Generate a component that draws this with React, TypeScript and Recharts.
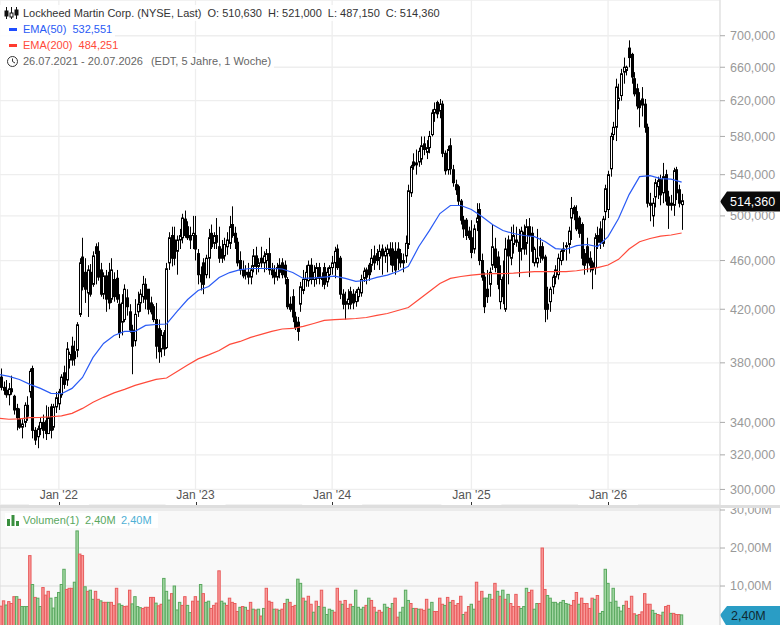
import React from "react";
import { ComposedChart, BarChart, Bar, Line, XAxis, YAxis, CartesianGrid, ReferenceLine } from "recharts";

const opens = [
376,370,363,361,358,362,357,349,342,337,
340,351,360,376,335,331,336,340,341,333,
350,337,350,352,358,373,368,382,392,388,
389,416,463,450,433,450,440,472,468,452,
432,447,450,428,444,445,424,410,412,429,
418,404,396,418,425,430,440,436,425,422,
412,405,390,402,391,458,482,478,468,478,
480,497,490,482,482,482,466,448,458,448,
462,484,475,482,472,470,464,472,475,492,
484,476,460,452,450,450,446,455,464,455,
462,458,460,466,452,450,446,456,458,456,
444,424,430,414,410,424,435,444,443,456,
444,445,454,446,454,442,448,454,458,470,
462,432,426,424,434,432,426,430,433,445,
452,456,456,464,466,462,470,464,466,470,
470,468,470,466,458,464,474,522,553,552,
553,556,572,563,568,582,606,618,608,616,
562,545,570,545,530,528,514,496,496,486,
480,470,494,506,460,446,436,440,456,470,
463,426,446,420,478,462,474,478,476,470,
485,475,490,484,458,458,472,472,463,424,
426,438,446,448,460,468,472,474,498,508,
504,498,492,466,472,462,458,454,482,488,
475,504,506,546,582,590,620,626,654,656,
684,676,646,634,620,622,616,590,512,500,
518,528,535,522,540,518,512,510,545,525,
510.63];
const highs = [
382,376,367,368,366,371,358,352,349,342,
353,357,376,378,337,338,343,345,351,350,
352,352,360,362,372,378,395,388,399,396,
410,462,480,462,456,457,468,475,476,458,
450,452,458,462,450,452,432,432,440,436,
424,408,428,434,436,447,445,436,430,424,
425,412,404,404,458,485,490,490,482,488,
502,505,495,490,500,500,470,455,462,465,
488,492,485,498,490,478,480,485,500,509,
490,480,468,460,456,458,456,470,472,462,
472,468,470,480,458,456,458,462,462,460,
446,430,436,418,414,442,452,456,460,462,
456,458,458,450,458,454,456,464,472,474,
464,436,434,436,438,436,436,438,448,454,
454,458,470,473,470,474,474,472,474,476,
476,476,476,470,466,482,530,550,562,566,
568,580,580,576,586,610,618,620,622,620,
565,570,578,550,535,530,516,500,498,490,
496,492,512,512,466,450,452,454,492,480,
468,456,460,480,482,490,492,490,488,490,
492,497,498,490,472,488,480,476,465,438,
438,448,456,466,470,476,476,490,518,510,
510,500,494,470,480,468,460,484,490,495,
500,530,544,584,596,646,640,658,672,662,
694,678,654,640,630,636,622,594,522,517,
536,538,540,552,545,524,520,547,548,530,
521];
const lows = [
368,361,358,356,351,358,345,335,336,330,
337,341,356,330,326,324,332,330,329,333,
330,335,346,348,356,362,364,376,378,378,
384,414,435,425,414,430,438,440,443,430,
428,418,420,425,426,425,398,400,410,415,
402,372,392,414,418,425,420,416,416,410,
383,380,384,385,390,452,455,456,448,470,
475,480,478,470,470,460,440,435,432,445,
445,470,470,470,458,458,460,465,470,480,
470,455,448,445,444,440,440,450,448,450,
454,450,452,448,445,440,443,445,445,440,
420,418,410,404,396,418,432,438,438,440,
438,440,440,438,436,438,444,448,445,452,
428,420,412,420,420,420,422,426,430,442,
440,443,450,452,456,452,448,458,450,456,
450,448,452,454,450,458,470,518,545,540,
548,550,560,556,562,580,596,600,600,558,
540,540,540,528,520,510,492,480,478,478,
462,466,486,456,443,417,425,430,452,450,
436,420,424,418,440,456,466,472,446,460,
465,465,446,458,455,454,458,460,410,412,
418,432,440,444,456,460,460,466,478,496,
486,480,456,448,450,450,436,448,470,470,
472,496,498,538,576,575,610,620,640,650,
660,640,625,610,590,602,584,508,495,490,
508,516,510,512,510,488,505,500,515,508,
487.15];
const closes = [
370,363,361,358,362,360,348,343,337,339,
351,344,374,335,329,336,340,335,333,343,
335,350,356,360,370,365,390,386,382,383,
408,458,438,436,452,432,464,466,446,432,
447,428,425,452,430,428,402,425,436,422,
404,392,416,424,432,440,428,420,418,412,
392,388,400,390,453,480,462,462,478,482,
498,482,480,478,484,470,448,442,440,462,
480,472,482,476,462,462,474,478,490,482,
476,458,452,447,448,446,452,464,455,458,
458,464,466,452,448,446,454,450,448,446,
422,420,414,406,403,438,444,450,456,444,
450,454,445,444,440,450,454,458,468,454,
432,424,424,428,424,425,434,436,444,451,
446,448,462,458,460,468,464,468,470,464,
456,452,462,458,460,475,524,548,549,550,
564,570,566,568,580,606,610,605,616,562,
544,566,546,532,525,514,496,488,482,480,
467,488,498,460,446,422,430,450,472,454,
440,444,430,470,464,478,482,476,468,486,
470,490,482,468,470,462,464,462,420,420,
436,446,452,462,468,470,473,486,507,502,
488,484,462,456,458,456,452,480,476,476,
497,526,540,580,590,636,623,652,660,660,
672,648,628,614,612,615,590,512,510,512,
532,534,520,538,514,510,510,544,522,512,
514.36];
const volumes = [
5,4.7,6.1,5,5.9,5.4,7.2,7.2,6.5,4.6,
4.6,4.6,18,10.4,7,6.8,4.6,9.6,7.6,8.6,
6.8,4.2,7,8.3,10.4,14.4,9.1,9.4,9.4,11,
24.5,18.4,18,9.8,8.6,8.9,6.5,8.6,6.5,6.1,
5.7,5.7,5.7,5.7,4.9,9.4,5.3,4.9,4.6,4.7,
8.9,5.3,7.2,4.6,4.3,4.1,4.4,4.4,7,7,
5.5,4.8,5.2,12,8.6,6.3,8,10,3.7,5.7,
4.9,7.2,4.9,3,6,7.2,6,10.4,8,5.7,
6,4.1,4.9,5.5,14,6,5.5,4.9,6.8,5.7,
5.4,3.3,4.4,4.6,4.4,3.6,5.7,3.9,3.7,3.9,
2.1,4.1,9.4,6,5.7,3.9,3.9,3.6,3.9,5.4,
6.5,5.7,4.6,4.9,11.8,10.7,6.8,6,7.3,5.2,
3.1,6,4.6,8.9,4.4,2.5,3.9,3.6,3.1,9.4,
6,5.2,6.2,4.1,5.2,4.6,8.9,4.4,3.9,4.4,
4.9,6.8,6.2,4.4,3.1,3.6,3.1,5.2,4.4,4.1,
5.4,6.8,1.8,3.1,4.4,8.9,6.2,5.4,4.1,4.1,
3.9,3.9,3.6,6.5,3.9,5.7,3.3,3.3,6.8,5.2,
4.9,7,5.7,6.2,4.9,5.4,7.3,2.5,3.1,4.6,
5.2,3.9,11,6,8.6,6.8,6.8,7.8,6.5,10.7,
8.6,7.3,8.9,6.5,7.8,5.4,4.6,7.8,4.6,4.1,
4.6,9.4,8.3,8.9,3.9,5.4,5.4,20,9.1,7.5,
6.8,5.7,5.7,5.3,5.7,6.2,5.4,5.2,4.9,6.2,
8.3,5.2,6.8,5.4,5.4,4.1,6.8,6.5,7.5,2.8,
3.3,14.4,10.7,5.7,9.4,6,4.4,3.4,4.9,6,
4.1,7.3,2.7,2.3,2.5,3.2,8,5.2,5.2,3.6,
2.8,2.5,2.3,3.1,4.6,4.9,2.8,2.8,2.5,2.5,
2.4];
const volumeSides =
  "rrrgrrrgrg" + "ggrgrggrrr" + "ggggggrrrg" + "grrgrggrrg" + "rrgrrrggrr" +
  "rggggrrrrr" + "grrgggrggg" + "rrggrrrgrg" + "grrrrggrrr" + "rrgrgrrgrg" +
  "rgrrrgrgrr" + "grrrggrgrr" + "grgrggggrr" + "rgrrrggggg" + "rgrrgrrggr" +
  "grrggggrgr" + "grrrggrrrr" + "grgrrrrgrr" + "ggrrrgggrr" + "grgrgrrrrg" +
  "ggrrggrrrg" + "ggggggggrr" + "rgrrrrrgrg" + "gggggggggr" + "rrrgrrrrrg" +
  "grrgrrgrrr" + "g";
const ema50Every4Weeks = [
372,370.5,368.4,365,362.3,359,358.7,362.3,369.8,383.9,394,399.9,403,403,407.5,408.2,408.6,
418.3,427.7,435,438.2,445.7,449.8,452.3,453.2,453.2,453.2,452.8,449.8,444.9,445.3,446,446.8,
444.9,442.4,443.2,445.7,447.7,450.7,455,472.2,486.5,502.2,509.8,509.8,506,499.4,492,486.5,
483.8,482,481,476.6,470.4,469.6,473,474,472.2,481,497.6,520.3,538,539,536,535.5,532.55];
const ema200Every4Weeks = [
342.6,342,342.3,343,343.2,343.6,344.2,345.8,349,353,356.3,359.3,361.6,364.3,366.4,368.4,369.4,
373.9,378.5,382.8,385.7,388.9,393.3,395.5,398.5,400.7,403,404.8,405.2,406.8,409,411.3,412,
412.4,412.8,413.6,415.2,416.7,419,421.4,427.7,434.2,440.7,444.9,446.5,447.7,448.5,448.9,448.9,
449.3,450,450.5,450.5,450.5,450.5,451.3,452.6,454,456.2,461,470,476.5,479.3,481.5,482.5,484.251];
const priceTicks = [700, 660, 620, 580, 540, 500, 460, 420, 380, 340, 320, 300];
const volumeTicks = [10, 20, 30];
const yearWeeks = [23, 75, 127, 180, 232];
const yearLabels = ["Jan '22", "Jan '23", "Jan '24", "Jan '25", "Jan '26"];
const lastClose = 514.36;
const lastVolume = 2.4;

const FONT = "'Liberation Sans', Arial, sans-serif";
const rows = opens.map((o, i) => ({
  week: i,
  open: o,
  high: highs[i],
  low: lows[i],
  close: closes[i],
  range: [lows[i], highs[i]],
  volume: volumes[i],
  side: volumeSides[i],
  ema50: i % 4 === 0 ? ema50Every4Weeks[i / 4] : null,
  ema200: i % 4 === 0 ? ema200Every4Weeks[i / 4] : null,
}));

const fmtPrice = (v: number) => v.toFixed(3).replace(".", ",");
const fmtVol = (v: number) => v.toFixed(2).replace(".", ",") + "M";

function Candle(p: any) {
  const { x, y, width, height, payload } = p;
  if (!payload || !isFinite(y) || !isFinite(height)) return null;
  const cx = Math.round(x + width / 2) + 0.5;
  const span = Math.log(payload.high) - Math.log(payload.low);
  const at = (v: number) => y + (height * (Math.log(payload.high) - Math.log(v))) / span;
  const up = payload.close >= payload.open;
  const top = at(Math.max(payload.open, payload.close));
  const bot = at(Math.min(payload.open, payload.close));
  return (
    <g>
      <line x1={cx} x2={cx} y1={y} y2={y + height} stroke="#000" strokeWidth={1} />
      <rect x={cx - 1} y={top} width={2} height={Math.max(bot - top, 0.5)}
        fill={up ? "#fff" : "#000"} stroke="#000" strokeWidth={1} />
    </g>
  );
}

function VolBar(p: any) {
  const { x, y, width, height, payload } = p;
  if (!payload) return null;
  const red = payload.side === "r";
  const left = x + width / 2 - 1.2;
  return (
    <rect x={left} y={y} width={2.4} height={height + 3}
      fill={red ? "#f99a9a" : "#a5d8a5"} stroke={red ? "#e85c5c" : "#5aa85f"} strokeWidth={1} />
  );
}

function YearTick(p: any) {
  const { x, y, payload, index } = p;
  return (
    <g>
      <rect x={x - 30} y={y - 15} width={60} height={15} fill="#fff" />
      <text x={x} y={y - 6.5} textAnchor="middle" fontSize={12} fontFamily={FONT} fill="#555">
        {yearLabels[index] ?? yearLabels[yearWeeks.indexOf(payload.value)]}
      </text>
      <line x1={Math.round(x) + 0.5} x2={Math.round(x) + 0.5} y1={y - 3} y2={y} stroke="#333" />
    </g>
  );
}

function PriceTag(p: any) {
  const { viewBox } = p;
  const yy = viewBox.y + 0.8;
  const r = viewBox.x + viewBox.width;
  return (
    <g>
      <polygon points={`${r},${yy} ${r + 7},${yy - 10} ${r + 60},${yy - 10} ${r + 60},${yy + 10} ${r + 7},${yy + 10}`} fill="#0a0a0a" />
      <text x={r + 10} y={yy + 4.5} fill="#fff" fontSize={12.5} fontFamily={FONT}>{fmtPrice(lastClose)}</text>
    </g>
  );
}

function VolTag(p: any) {
  const { viewBox } = p;
  const yy = viewBox.y;
  const r = viewBox.x + viewBox.width;
  return (
    <g>
      <polygon points={`${r},${yy} ${r + 7},${yy - 9} ${r + 60},${yy - 9} ${r + 60},${yy + 12} ${r + 7},${yy + 12}`} fill="#2a9dc5" />
      <text x={r + 11} y={yy + 5} fill="#102a33" fontSize={12.5} fontFamily={FONT}>{fmtVol(lastVolume)}</text>
    </g>
  );
}

const Row = ({ top, children }: any) => (
  <div style={{ position: "absolute", left: 0, top, height: 16, lineHeight: "16px", whiteSpace: "pre", background: "rgba(255,255,255,0.85)", paddingRight: 3, display: "flex", alignItems: "center" }}>
    {children}
  </div>
);

export default function App() {
  return (
    <div style={{ position: "absolute", left: 0, top: 0, width: 780, height: 625, overflow: "hidden", background: "#fff", fontFamily: FONT, fontSize: 11 }}>
      <div style={{ position: "absolute", left: 0, top: 0 }}>
        <ComposedChart width={780} height={506} data={rows} margin={{ top: 0, right: 0, bottom: 0, left: 0 }} barGap={0}>
          <CartesianGrid stroke="#eeeeee" strokeWidth={1.3} />
          <XAxis dataKey="week" type="number" scale="linear" domain={[0.6, 274.6]} allowDataOverflow ticks={yearWeeks}
            height={1} axisLine={false} tickLine={false} tickSize={0} tickMargin={0} interval={0} tick={<YearTick />} />
          <YAxis orientation="right" width={60} scale="log" domain={[291.4, 748.3]} allowDataOverflow ticks={priceTicks} interval={0}
            axisLine={{ stroke: "#dddddd" }} tickLine={{ stroke: "#aaaaaa" }} tickSize={5} tickMargin={5}
            tick={{ fill: "#999999", fontSize: 12.5, fontFamily: FONT, textAnchor: "start" }} tickFormatter={fmtPrice} />
          <Bar dataKey="range" barSize={3} isAnimationActive={false} shape={<Candle />} />
          <Line dataKey="ema200" stroke="#ff4a3a" strokeWidth={1.2} dot={false} connectNulls isAnimationActive={false} />
          <Line dataKey="ema50" stroke="#2a5bf5" strokeWidth={1.2} dot={false} connectNulls isAnimationActive={false} />
          <ReferenceLine y={lastClose} stroke="none" ifOverflow="visible" label={<PriceTag />} />
        </ComposedChart>
      </div>

      <div style={{ position: "absolute", left: 0, top: 508, width: 720, height: 117, background: "#f9f9f9" }} />
      <div style={{ position: "absolute", left: 0, top: 508 }}>
        <BarChart width={780} height={118} data={rows} margin={{ top: 0, right: 0, bottom: 0, left: 0 }}>
          <CartesianGrid stroke="#dddddd" strokeWidth={1.2} />
          <XAxis dataKey="week" type="number" scale="linear" domain={[0.6, 274.6]} allowDataOverflow ticks={yearWeeks}
            height={0} axisLine={false} tickLine={false} tick={false} interval={0} />
          <YAxis orientation="right" width={60} domain={[-0.52, 30.53]} allowDataOverflow ticks={volumeTicks} interval={0}
            axisLine={{ stroke: "#dddddd" }} tickLine={{ stroke: "#aaaaaa" }} tickSize={5} tickMargin={5}
            tick={{ fill: "#999999", fontSize: 12.5, fontFamily: FONT, textAnchor: "start" }} tickFormatter={fmtVol} />
          <Bar dataKey="volume" barSize={3} isAnimationActive={false} shape={<VolBar />} />
          <ReferenceLine y={lastVolume} stroke="none" ifOverflow="visible" label={<VolTag />} />
        </BarChart>
      </div>

      <div style={{ position: "absolute", left: 0, top: 505, width: 780, height: 3, background: "#dedede" }} />

      <Row top={4.5}>
        <svg width={23} height={16} style={{ flex: "none" }}>
          <g stroke="#111" fill="none">
            <path d="M8.5 2V14M13.5 2V14M18.5 2V14" transform="translate(-2,0)" />
            <rect x={5} y={6} width={3} height={5} fill="#111" />
            <rect x={10} y={8} width={3} height={4} fill="#fff" />
            <rect x={15} y={5} width={3} height={5} fill="#111" />
          </g>
        </svg>
        <span style={{ color: "#333" }}>Lockheed Martin Corp. (NYSE, Last)</span>
        <span style={{ color: "#333", marginLeft: 6 }}>O: 510,630</span>
        <span style={{ color: "#333", marginLeft: 6 }}>H: 521,000</span>
        <span style={{ color: "#333", marginLeft: 6 }}>L: 487,150</span>
        <span style={{ color: "#333", marginLeft: 6 }}>C: 514,360</span>
      </Row>
      <Row top={20.5}>
        <svg width={23} height={16} style={{ flex: "none" }}><rect x={9} y={7} width={8} height={3} fill="#1f4dff" /></svg>
        <span style={{ color: "#2a5bf5" }}>EMA(50)</span>
        <span style={{ color: "#2a5bf5", marginLeft: 6 }}>532,551</span>
      </Row>
      <Row top={36.5}>
        <svg width={23} height={16} style={{ flex: "none" }}><rect x={9} y={7} width={8} height={3} fill="#ff3b2f" /></svg>
        <span style={{ color: "#ff4a3a" }}>EMA(200)</span>
        <span style={{ color: "#ff4a3a", marginLeft: 6 }}>484,251</span>
      </Row>
      <Row top={52.5}>
        <svg width={23} height={16} style={{ flex: "none" }}>
          <circle cx={12.5} cy={8.5} r={5} fill="none" stroke="#333" />
          <path d="M12.5 5.5V8.5L15 10" fill="none" stroke="#333" />
        </svg>
        <span style={{ color: "#666" }}>26.07.2021 - 20.07.2026</span>
        <span style={{ color: "#666", marginLeft: 8 }}>(EDT, 5 Jahre, 1 Woche)</span>
      </Row>

      <div style={{ position: "absolute", left: 5, top: 513, width: 153, height: 15, lineHeight: "15px", background: "rgba(255,255,255,0.9)", whiteSpace: "pre" }}>
        <svg width={13} height={12} style={{ position: "absolute", left: 2, top: 1 }}>
          <rect x={0} y={5} width={3} height={7} fill="#3a8f3f" />
          <rect x={4.5} y={1} width={3} height={11} fill="#3a8f3f" />
          <rect x={9} y={7} width={3} height={5} fill="#3a8f3f" />
        </svg>
        <span style={{ position: "absolute", left: 18, color: "#5aa85f" }}>Volumen(1)</span>
        <span style={{ position: "absolute", left: 80, color: "#5aa85f" }}>2,40M</span>
        <span style={{ position: "absolute", left: 116, color: "#4fb0d5" }}>2,40M</span>
      </div>
    </div>
  );
}
